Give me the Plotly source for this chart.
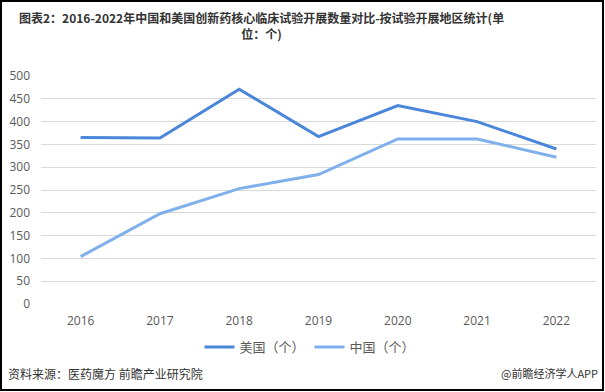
import plotly.graph_objects as go

years = ["2016", "2017", "2018", "2019", "2020", "2021", "2022"]
us_values = [365, 364, 471, 367, 435, 400, 340]
cn_values = [104, 198, 253, 284, 362, 362, 322]
y_ticks = [0, 50, 100, 150, 200, 250, 300, 350, 400, 450, 500]

W, H = 605, 392
L, R, T, B = 41, 9, 76, 88
PW = W - L - R
PH = H - T - B

def px(x):
    return (x - L) / PW

def py(y):
    return (H - B - y) / PH

fig = go.Figure()
fig.add_trace(go.Scatter(x=years, y=us_values, mode="lines", name="美国（个）",
                         line=dict(color="rgb(74,134,218)", width=3)))
fig.add_trace(go.Scatter(x=years, y=cn_values, mode="lines", name="中国（个）",
                         line=dict(color="rgb(128,176,236)", width=3)))

font_family = "Noto Sans CJK SC, Open Sans, sans-serif"

fig.update_layout(
    width=W, height=H,
    margin=dict(l=L, r=R, t=T, b=B),
    paper_bgcolor="white", plot_bgcolor="white",
    font=dict(family=font_family, color="#595959", size=12),
    showlegend=True,
    legend=dict(orientation="h", x=px(310), y=py(347), xanchor="center", yanchor="middle",
                font=dict(size=13, color="#595959"), itemwidth=30, bgcolor="rgba(0,0,0,0)"),
    xaxis=dict(type="category", range=[-0.5, len(years) - 0.5], showgrid=False,
               showline=False, ticks="",
               tickfont=dict(size=12, color="#595959", family="Open Sans, sans-serif"),
               ticklabelstandoff=8),
    yaxis=dict(range=[0, 500], tickvals=y_ticks, showgrid=True, gridcolor="#d9d9d9",
               gridwidth=1, zeroline=False, showline=False, ticks="",
               tickfont=dict(size=12, color="#595959", family="Open Sans, sans-serif"),
               ticklabelstandoff=10),
)

fig.add_annotation(
    text="<b>图表2：2016-2022年中国和美国创新药核心临床试验开展数量对比-按试验开展地区统计(单</b><br><b>位：个)</b>",
    xref="paper", yref="paper", x=px(261), y=py(25), xanchor="center", yanchor="middle",
    showarrow=False, align="center",
    font=dict(size=12, color="#333333", family=font_family),
)
fig.add_annotation(
    text="资料来源：医药魔方 前瞻产业研究院",
    xref="paper", yref="paper", x=px(6), y=py(373), xanchor="left", yanchor="middle",
    showarrow=False, font=dict(size=12, color="#333333", family=font_family),
)
fig.add_annotation(
    text="@前瞻经济学人APP",
    xref="paper", yref="paper", x=px(600), y=py(373), xanchor="right", yanchor="middle",
    showarrow=False, font=dict(size=11, color="#333333", family=font_family),
)

fig.add_shape(type="rect", xref="paper", yref="paper",
              x0=px(1), x1=px(603), y0=py(390), y1=py(1),
              line=dict(color="black", width=2), fillcolor="rgba(0,0,0,0)", layer="above")

fig.write_html("out.html",
               config={"displayModeBar": False},
               post_script="document.body.style.margin='0';document.body.style.overflow='hidden';")
